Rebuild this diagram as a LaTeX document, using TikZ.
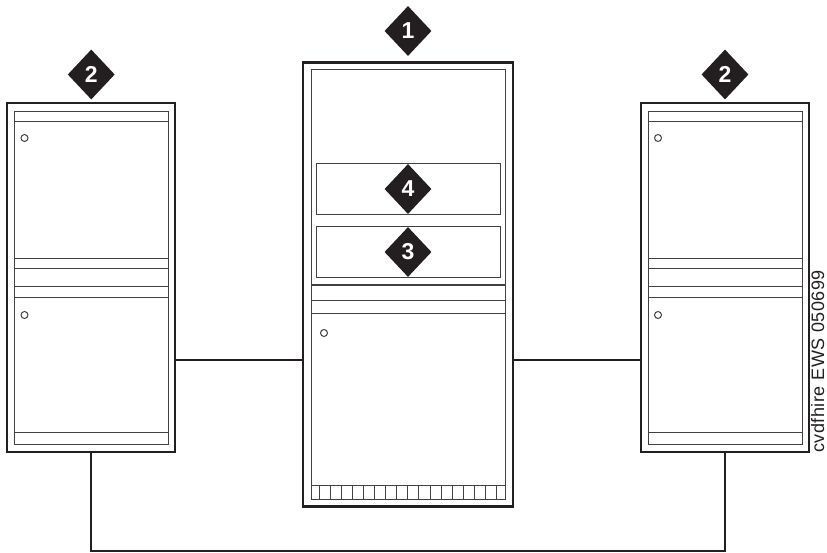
\documentclass[tikz,border=0pt]{standalone}
\usepackage{fontspec}
\setmainfont{Liberation Sans}
\usetikzlibrary{shapes.geometric}
\definecolor{inkblack}{HTML}{231F20}
\definecolor{inkgrey}{HTML}{414042}
\tikzset{
  cabinet/.style={draw=inkblack,line width=2.4pt,inner sep=0pt,outer sep=0pt},
  panel/.style={draw=inkgrey,line width=1pt},
  trunk/.style={draw=inkblack,line width=2.2pt},
  callout/.style={diamond,fill=inkblack,text=white,inner sep=0pt,minimum width=47pt,minimum height=50pt,font=\fontsize{23}{23}\bfseries\selectfont},
}
\begin{document}
\begin{tikzpicture}[x=1pt,y=-1pt]
  \useasboundingbox (0,0) rectangle (827,553);
  % Side cabinets, same rows in both
  \foreach \nm/\xc/\xl/\xr/\xo in {cabL/91.25/14/168.5/24.5,cabR/725/648/802/658} {
    \node[cabinet,minimum width=168pt,minimum height=349pt] (\nm) at (\xc,277.5) {};
    \draw[panel] (\xl,112) rectangle (\xr,444);
    \foreach \yr in {122,258.5,269,287,298,432.5}
      \draw[panel] (\xl,\yr) -- (\xr,\yr);
    \draw[panel] (\xo,138) circle (3.5);
    \draw[panel] (\xo,315) circle (3.5);
  }
  % Middle cabinet
  \node[cabinet,minimum width=210pt,minimum height=444pt] (cabM) at (408,284.5) {};
  \draw[panel] (311,70) rectangle (505.3,499);
  \draw[panel] (316,164) rectangle (500.5,214.7);
  \draw[panel] (316,226.3) rectangle (500.5,277.3);
  \draw[panel,line width=2.2pt] (311,285) -- (505.3,285);
  \foreach \yr in {300.5,313.5,485.3}
    \draw[panel] (311,\yr) -- (505.3,\yr);
  \draw[panel] (324,333) circle (3.5);
  \foreach \k in {0,...,16}
    \draw[panel] ({319.7+11.03*\k},485.3) -- ({319.7+11.03*\k},499);
  % Connectors
  \coordinate (tap) at (408,360);
  \draw[trunk] (cabL.east |- tap) -- (cabM.west |- tap);
  \draw[trunk] (cabM.east |- tap) -- (cabR.west |- tap);
  \draw[trunk] (cabL.south) -- ++(0,99) -| (cabR.south);
  % Callouts
  \node[callout] (mark1) at (408,31) {1};
  \node[callout] (mark2L) at (91.25,74.5) {2};
  \node[callout] (mark2R) at (725,74.5) {2};
  \node[callout] (mark4) at (408,189) {4};
  \node[callout] (mark3) at (408,252) {3};
  \node[rotate=90,anchor=base west,inner sep=0pt,text=inkblack,font=\fontsize{18}{18}\selectfont\addfontfeature{LetterSpace=3}] (figid) at (824,453) {cvdfhire EWS 050699};
\end{tikzpicture}
\end{document}
